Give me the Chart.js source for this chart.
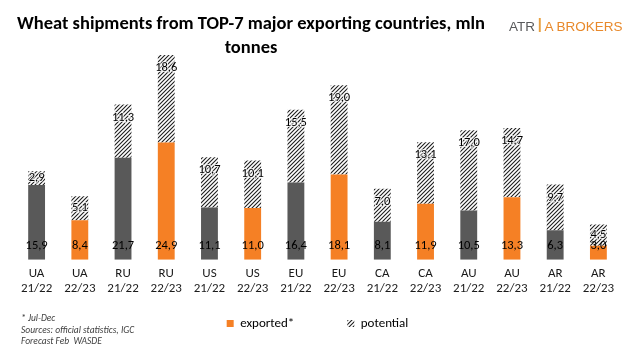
<!DOCTYPE html>
<html>
<head>
<meta charset="utf-8">
<script src="https://cdn.jsdelivr.net/npm/chart.js@4.4.1/dist/chart.umd.min.js"></script>
<style>
  html, body { margin: 0; padding: 0; background: #fff; overflow: hidden; }
  #wrap { position: relative; width: 635px; height: 358px; }
  #c { position: absolute; left: 0; top: 0; }
  #title { position: absolute; left: 0; top: 11px; width: 502px; text-align: center;
    font: bold 18.5px Carlito, Lato, sans-serif; line-height: 24px; color: #000; }
  #logo { position: absolute; left: 509px; top: 17px; white-space: nowrap;
    font: 13.5px "Liberation Sans", Arial, sans-serif; line-height: 16px; }
  #logo .g { color: #58595b; }
  #logo .o { color: #e8892b; }
  #logo .w { color: #e8a040; font-size: 20px; line-height: 16px; padding: 0 2px; vertical-align: -1px; }
  #note { position: absolute; left: 21px; top: 313px; font: italic 9.5px Carlito, Lato, sans-serif;
    line-height: 11.5px; color: #404040; }
</style>
</head>
<body>
<div id="wrap">
  <canvas id="c" width="635" height="358"></canvas>
  <div id="title">Wheat shipments from TOP-7 major exporting countries, mln<br>tonnes</div>
  <div id="logo"><span class="g">ATR</span><span class="w">I</span><span class="o">A BROKERS</span></div>
  <div id="note">* Jul-Dec<br>Sources: official statistics, IGC<br>Forecast Feb&nbsp; WASDE</div>
</div>
<script>
const countries = ["UA","UA","RU","RU","US","US","EU","EU","CA","CA","AU","AU","AR","AR"];
const seasons   = ["21/22","22/23","21/22","22/23","21/22","22/23","21/22","22/23","21/22","22/23","21/22","22/23","21/22","22/23"];
const exported  = [15.9, 8.4, 21.7, 24.9, 11.1, 11.0, 16.4, 18.1, 8.1, 11.9, 10.5, 13.3, 6.3, 3.0];
const potential = [2.9, 5.1, 11.3, 18.6, 10.7, 10.1, 15.5, 19.0, 7.0, 13.1, 17.0, 14.7, 9.7, 4.5];
const seriesNames = ["exported*", "potential"];

const GRAY = "#595959";
const ORANGE = "#f58025";
const FONT = "Carlito, Lato, sans-serif";

function makeHatch() {
  const t = document.createElement("canvas");
  t.width = 4; t.height = 4;
  const g = t.getContext("2d");
  g.fillStyle = "#ffffff";
  g.fillRect(0, 0, 4, 4);
  g.strokeStyle = "#1e1e1e";
  g.lineWidth = 1.1;
  g.beginPath();
  g.moveTo(0, 4); g.lineTo(4, 0);
  g.moveTo(-1, 1); g.lineTo(1, -1);
  g.moveTo(3, 5); g.lineTo(5, 3);
  g.stroke();
  return document.createElement("canvas").getContext("2d").createPattern(t, "repeat");
}
const hatch = makeHatch();

const labels = countries.map((c, i) => [c, seasons[i]]);
const exportColors = seasons.map(s => s === "21/22" ? GRAY : ORANGE);

const fmt = v => v.toFixed(1).replace(".", ",");

const valueLabels = {
  id: "valueLabels",
  afterDatasetsDraw(chart) {
    const ctx = chart.ctx;
    ctx.save();
    ctx.font = "12.5px " + FONT;
    ctx.textAlign = "center";
    ctx.textBaseline = "middle";
    ctx.lineJoin = "round";
    chart.data.datasets.forEach((ds, di) => {
      const meta = chart.getDatasetMeta(di);
      meta.data.forEach((bar, i) => {
        const txt = fmt(ds.data[i]);
        let y;
        if (di === 0) {
          y = bar.base - 14;
        } else {
          const h = bar.base - bar.y;
          y = bar.y + Math.min(13, h / 2);
          ctx.strokeStyle = "rgba(255,255,255,0.75)";
          ctx.lineWidth = 2.2;
          ctx.strokeText(txt, bar.x, y);
        }
        ctx.fillStyle = "#000";
        ctx.fillText(txt, bar.x, y);
      });
    });
    ctx.restore();
  }
};

new Chart(document.getElementById("c"), {
  type: "bar",
  data: {
    labels: labels,
    datasets: [
      { label: seriesNames[0], data: exported, backgroundColor: exportColors, borderWidth: 0,
        barPercentage: 0.39, categoryPercentage: 1 },
      { label: seriesNames[1], data: potential, backgroundColor: hatch, borderWidth: 0,
        barPercentage: 0.39, categoryPercentage: 1 }
    ]
  },
  options: {
    responsive: false,
    animation: false,
    layout: { padding: { top: 48, left: 15, right: 15, bottom: 18 } },
    scales: {
      x: {
        stacked: true,
        grid: { display: false, drawTicks: false },
        border: { display: false },
        ticks: { color: "#1a1a1a", font: { family: FONT, size: 13 }, padding: 6,
          maxRotation: 0, autoSkip: false }
      },
      y: { stacked: true, display: false, min: 0, max: 45 }
    },
    plugins: {
      title: { display: false },
      tooltip: { enabled: false },
      legend: {
        position: "bottom",
        labels: {
          boxWidth: 7, boxHeight: 7, padding: 14,
          color: "#1a1a1a",
          font: { family: FONT, size: 13 },
          generateLabels: () => [
            { text: seriesNames[0] + "\u2002\u2002\u2002\u2002\u2002\u2002", fillStyle: ORANGE, strokeStyle: "rgba(0,0,0,0)", lineWidth: 0, hidden: false, datasetIndex: 0 },
            { text: seriesNames[1], fillStyle: hatch, strokeStyle: "rgba(0,0,0,0)", lineWidth: 0, hidden: false, datasetIndex: 1 }
          ]
        }
      }
    }
  },
  plugins: [valueLabels]
});
</script>
</body>
</html>
